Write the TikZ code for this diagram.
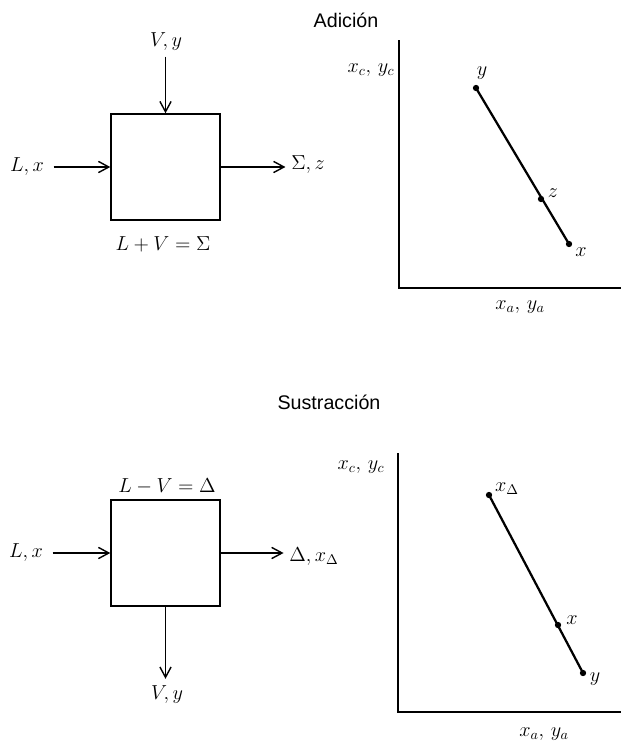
\documentclass[tikz,border=0pt]{standalone}
\usepackage{amsmath,amssymb}
\usepackage{fontspec}
\newfontfamily\hdfont{Liberation Sans}
\usepackage{tikz}
\usetikzlibrary{positioning,arrows.meta,calc}

\begin{document}
\begin{tikzpicture}[x=0.025cm, y=-0.025cm, font=\Large, >={Straight Barb[length=2.6mm,width=2.8mm]},
  blk/.style={draw, line width=1pt, minimum width=2.725cm, minimum height=2.65cm, inner sep=0pt},
  lbl/.style={inner sep=1pt},
  hd/.style={font=\fontsize{14}{16}\selectfont\hdfont},
  dot/.style={circle, fill, inner sep=0pt, minimum size=4.5pt},
  ax/.style={line width=1pt},
  seg/.style={line width=1.6pt},
  flow/.style={->, line width=1pt}]
\useasboundingbox (0,0) rectangle (620,743);
% (a) adicion
\node[hd] (tadd) at (346,20) {Adición};
\node[blk] (box1) at (165.5,167) {};
\node[lbl] (vy1) at (166,42) {$V,y$};
\node[lbl] (lx1) at (27,167) {$L,x$};
\node[lbl] (sz) at (308,165) {$\Sigma,z$};
\node[lbl] (sum) at (163,244) {$L+V=\Sigma$};
\draw[flow] (box1.north |- vy1.south) ++(0,4) -- (box1.north);
\draw[flow] (lx1.east) ++(8,0) -- (box1.west);
\draw[flow, shorten >=3pt] (box1.east) -- (box1.east -| sz.west);
% diagrama (a)
\coordinate (yt1) at (399,40);
\coordinate (o1) at (399,288);
\coordinate (xe1) at (622,288);
\draw[ax] (yt1) -- (o1) -- (xe1);
\node[lbl] (ax1) at (371,70) {$x_c,\,y_c$};
\node[lbl] (ay1) at (520,307) {$x_a,\,y_a$};
\node[dot] (py) at (476,88) {};
\node[dot] (pz) at (541,199) {};
\node[dot] (px) at (569,244) {};
\draw[seg] (py.center) -- (px.center);
\node[lbl] at (482,73) {$y$};
\node[lbl] at (553,193) {$z$};
\node[lbl] at (581,252) {$x$};
% (b) sustraccion
\node[hd] (tsub) at (329,402) {Sustracción};
\node[blk] (box2) at (165.5,553) {};
\node[lbl] (lx2) at (26,553) {$L,x$};
\node[lbl] (dif) at (167,486) {$L-V=\Delta$};
\node[lbl] (dx) at (314,557) {$\Delta,x_\Delta$};
\node[lbl] (vy2) at (167,695) {$V,y$};
\draw[flow] (lx2.east) ++(8,0) -- (box2.west);
\draw[flow, shorten >=3pt] (box2.east) -- (box2.east -| dx.west);
\draw[flow, shorten >=4pt] (box2.south) -- (box2.south |- vy2.north);
% diagrama (b)
\coordinate (yt2) at (398,453);
\coordinate (o2) at (398,712);
\coordinate (xe2) at (622,712);
\draw[ax] (yt2) -- (o2) -- (xe2);
\node[lbl] (ax2) at (361,467) {$x_c,\,y_c$};
\node[lbl] (ay2) at (544,734) {$x_a,\,y_a$};
\node[dot] (qd) at (489,495) {};
\node[dot] (qx) at (558,625) {};
\node[dot] (qy) at (583,673) {};
\draw[seg] (qd.center) -- (qy.center);
\node[lbl] at (507,489) {$x_\Delta$};
\node[lbl] at (572,620) {$x$};
\node[lbl] at (595,679) {$y$};
\end{tikzpicture}
\end{document}
